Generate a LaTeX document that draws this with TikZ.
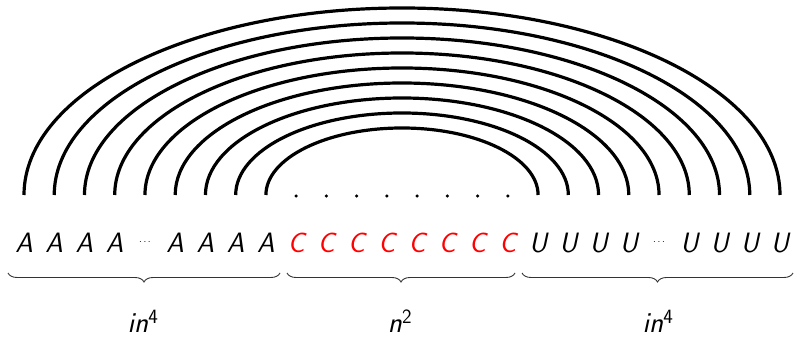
\documentclass[tikz,border=0pt]{standalone}
\usetikzlibrary{decorations.pathreplacing}
\begin{document}
\begin{tikzpicture}[x=1pt,y=1pt,
  letter/.style={anchor=base,inner sep=0pt,font=\fontsize{28}{30}\selectfont\sffamily\slshape},
  redletter/.style={letter,text=red},
  arcline/.style={line width=3.2pt},
  bracestyle/.style={decorate,decoration={brace,mirror,amplitude=9pt},line width=0.9pt,black!80},
  lbl/.style={anchor=base,inner sep=0pt,font=\fontsize{29}{30}\selectfont\sffamily}]
\useasboundingbox (0,0) rectangle (794,339);
\foreach \i in {0,...,25}{
  \pgfmathsetmacro\xx{24+30.24*\i}
  \coordinate (t\i) at (\xx,144);
  \coordinate (p\i) at (\xx,86);
}
% arcs
\foreach \k in {0,...,8}{
  \pgfmathsetmacro\ra{30.24*(25-2*\k)/2}
  \pgfmathsetmacro\rb{187-15*\k}
  \draw[arcline] (t\k) arc[start angle=180,end angle=0,x radius=\ra,y radius=\rb];
}
% dots above C
\foreach \i in {9,...,16}{
  \fill (t\i) ++(0,-1) circle (1.7);
}
% letters
\foreach \i in {0,1,2,3,5,6,7,8}{ \node[letter] (L\i) at (p\i) {A}; }
\foreach \i in {9,...,16}{ \node[redletter] (L\i) at (p\i) {C}; }
\foreach \i in {17,18,19,20,22,23,24,25}{ \node[letter] (L\i) at (p\i) {U}; }
\node[anchor=base,inner sep=0pt,font=\fontsize{10}{12}\selectfont] (L4) at ([yshift=8.5pt]p4) {$\cdots$};
\node[anchor=base,inner sep=0pt,font=\fontsize{10}{12}\selectfont] (L21) at ([yshift=8.5pt]p21) {$\cdots$};
% braces
\coordinate (b1s) at (8,66); \coordinate (b1e) at (280,66);
\coordinate (b2s) at (287,66); \coordinate (b2e) at (515,66);
\coordinate (b3s) at (522,66); \coordinate (b3e) at (793,66);
\draw[bracestyle] (b1s) -- (b1e);
\draw[bracestyle] (b2s) -- (b2e);
\draw[bracestyle] (b3s) -- (b3e);
% labels
\node[lbl] (n1) at (143,6) {\textsl{in}\textsuperscript{4}};
\node[lbl] (n2) at (400,6) {\textsl{n}\textsuperscript{2}};
\node[lbl] (n3) at (658,6) {\textsl{in}\textsuperscript{4}};
\end{tikzpicture}
\end{document}
